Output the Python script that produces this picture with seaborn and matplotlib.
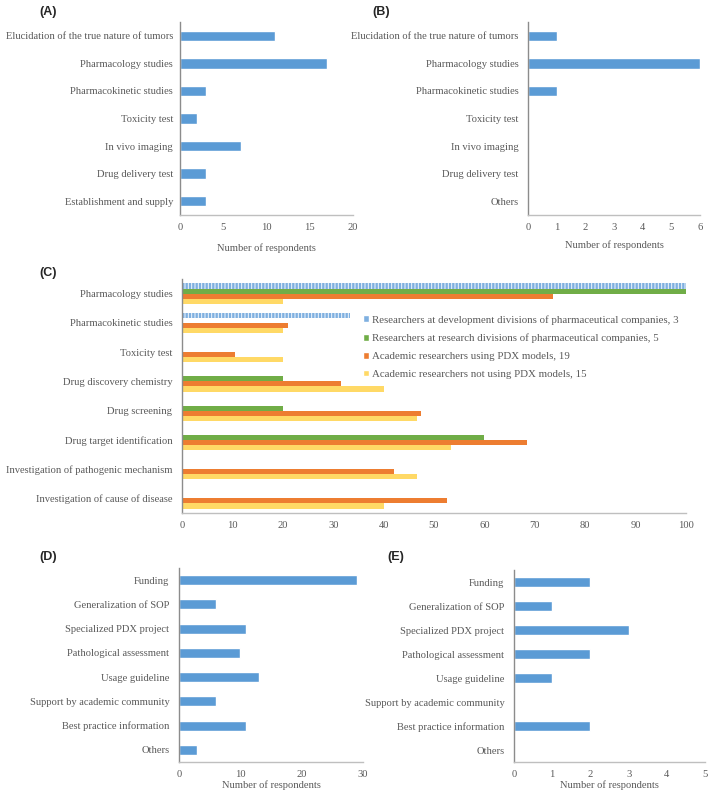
import numpy as np
import pandas as pd
import matplotlib.pyplot as plt
import seaborn as sns

sns.set_theme(style='white')
plt.rcParams['font.family'] = ['Liberation Serif', 'DejaVu Serif']
plt.rcParams['hatch.linewidth'] = 0.7

# panel A / B: purposes of PDX use
purpose_a = ['Elucidation of the true nature of tumors', 'Pharmacology studies',
             'Pharmacokinetic studies', 'Toxicity test', 'In vivo imaging',
             'Drug delivery test', 'Establishment and supply']
counts_a = [11, 17, 3, 2, 7, 3, 3]

purpose_b = ['Elucidation of the true nature of tumors', 'Pharmacology studies',
             'Pharmacokinetic studies', 'Toxicity test', 'In vivo imaging',
             'Drug delivery test', 'Others']
counts_b = [1, 6, 1, 0, 0, 0, 0]

# panel C: percentage of respondents per group
purpose_c = ['Pharmacology studies', 'Pharmacokinetic studies', 'Toxicity test',
             'Drug discovery chemistry', 'Drug screening', 'Drug target identification',
             'Investigation of pathogenic mechanism', 'Investigation of cause of disease']
groups_c = ['Researchers at development divisions of pharmaceutical companies, 3',
            'Researchers at research divisions of pharmaceutical companies, 5',
            'Academic researchers using PDX models, 19',
            'Academic researchers not using PDX models, 15']
dev_pharma = [100, 33.3, 0, 0, 0, 0, 0, 0]
res_pharma = [100, 0, 0, 20, 20, 60, 0, 0]
acad_pdx = [73.7, 21.1, 10.5, 31.6, 47.4, 68.4, 42.1, 52.6]
acad_no_pdx = [20, 20, 20, 40, 46.7, 53.3, 46.7, 40]

# panel D / E: needs
needs = ['Funding', 'Generalization of SOP', 'Specialized PDX project',
         'Pathological assessment', 'Usage guideline', 'Support by academic community',
         'Best practice information', 'Others']
counts_d = [29, 6, 11, 10, 13, 6, 11, 3]
counts_e = [2, 1, 3, 2, 1, 0, 2, 0]

blue = '#5B9BD5'
text_col = '#595959'
fs = 7.6
W, H = 709, 798

fig = plt.figure(figsize=(W / 100, H / 100), dpi=100)


def make_ax(left, right, top, bottom):
    return fig.add_axes([left / W, 1 - bottom / H, (right - left) / W, (bottom - top) / H])


def style(ax, xmax, step, xlabel=None, labelpad=4, ypad=7):
    ax.set_xlim(0, xmax)
    ax.set_xticks(np.arange(0, xmax + 0.01, step))
    ax.set_ylabel('')
    ax.set_xlabel(xlabel if xlabel else '', fontsize=fs, color=text_col, labelpad=labelpad)
    ax.tick_params(axis='both', length=0, labelsize=fs, labelcolor=text_col)
    ax.tick_params(axis='y', pad=ypad)
    ax.tick_params(axis='x', pad=6)
    for s in ['top', 'right']:
        ax.spines[s].set_visible(False)
    ax.spines['left'].set_color('#8C8C8C')
    ax.spines['bottom'].set_color('#BFBFBF')
    ax.spines['left'].set_linewidth(1.0)
    ax.spines['bottom'].set_linewidth(1.0)


def letter(x, y, s):
    fig.text(x / W, 1 - y / H, s, fontsize=9, fontweight='bold',
             family='Liberation Sans', ha='center', va='center')


# (A)
ax_a = make_ax(180, 353, 22, 215)
sns.barplot(x=counts_a, y=purpose_a, orient='h', color=blue, width=0.38,
            saturation=1, ax=ax_a)
style(ax_a, 20, 5, 'Number of respondents', labelpad=8, ypad=5)
letter(48, 12, '(A)')

# (B)
ax_b = make_ax(528, 700, 22, 215)
sns.barplot(x=counts_b, y=purpose_b, orient='h', color=blue, width=0.38,
            saturation=1, ax=ax_b)
style(ax_b, 6, 1, 'Number of respondents', labelpad=6)
letter(381, 12, '(B)')

# (C)
df_c = pd.DataFrame({
    'purpose': purpose_c * 4,
    'group': np.repeat(groups_c, len(purpose_c)),
    'pct': dev_pharma + res_pharma + acad_pdx + acad_no_pdx,
})
pal_c = ['#7FB0E0', '#70AD47', '#ED7D31', '#FFD966']
ax_c = make_ax(182, 686, 279, 513)
sns.barplot(data=df_c, x='pct', y='purpose', hue='group', hue_order=groups_c,
            palette=pal_c, orient='h', width=0.7, saturation=1, ax=ax_c)
hatches = ['|||||', '', '', '']
edges = ['#F2F7FD', '#70AD47', '#ED7D31', '#FFD966']
for cont, h, ec in zip(ax_c.containers, hatches, edges):
    for bar in cont:
        bar.set_hatch(h)
        bar.set_edgecolor(ec)
        bar.set_linewidth(0)
style(ax_c, 100, 10)
ax_c.legend(loc='upper left', bbox_to_anchor=(0.35, 0.865), frameon=False,
            fontsize=fs + 0.2, labelcolor=text_col, handlelength=0.6, handleheight=0.6,
            handletextpad=0.3, labelspacing=0.8, borderaxespad=0)
letter(48, 273, '(C)')

# (D)
ax_d = make_ax(179, 363, 568, 762)
sns.barplot(x=counts_d, y=needs, orient='h', color=blue, width=0.42,
            saturation=1, ax=ax_d)
style(ax_d, 30, 10, 'Number of respondents', labelpad=1)
letter(48, 557, '(D)')

# (E)
ax_e = make_ax(514, 705, 570, 762)
sns.barplot(x=counts_e, y=needs, orient='h', color=blue, width=0.42,
            saturation=1, ax=ax_e)
style(ax_e, 5, 1, 'Number of respondents', labelpad=1)
letter(396, 557, '(E)')

fig.savefig('out.png', dpi=100)
